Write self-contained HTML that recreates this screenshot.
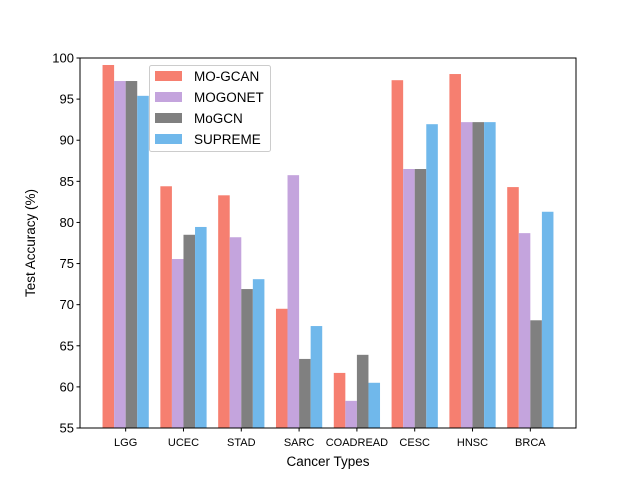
<!DOCTYPE html>
<html><head><meta charset="utf-8"><style>body{margin:0;background:#fff}svg{display:block;font-family:"Liberation Sans","DejaVu Sans",sans-serif}</style></head>
<body>
<svg id="chart" width="640" height="480" viewBox="0 0 640 480" xmlns="http://www.w3.org/2000/svg"></svg>
<script>
const categories = ["LGG","UCEC","STAD","SARC","COADREAD","CESC","HNSC","BRCA"];
const seriesNames = ["MO-GCAN","MOGONET","MoGCN","SUPREME"];
const moGcan = [99.15,84.4,83.3,69.5,61.7,97.3,98.05,84.3];
const mogonet = [97.2,75.55,78.2,85.75,58.3,86.5,92.2,78.7];
const mogcn = [97.2,78.5,71.9,63.4,63.9,86.5,92.2,68.1];
const supreme = [95.4,79.45,73.1,67.4,60.5,91.95,92.2,81.3];
const yTicks = [55,60,65,70,75,80,85,90,95,100];

const series=[moGcan,mogonet,mogcn,supreme];
const colors=["#f67f70","#c4a4dd","#808080","#70b8eb"];
const NS="http://www.w3.org/2000/svg";
const svg=document.getElementById('chart');
const L=80,R=576,T=58,B=428,ymin=55,ymax=100;
const xmin=-0.79,xmax=7.79;
const xs=v=>L+(v-xmin)/(xmax-xmin)*(R-L);
const ys=v=>B-(v-ymin)/(ymax-ymin)*(B-T);
function mk(tag,attrs,parent){const e=document.createElementNS(NS,tag);for(const k in attrs)e.setAttribute(k,attrs[k]);(parent||svg).appendChild(e);return e;}
const bw=0.2;
series.forEach((s,si)=>{s.forEach((v,ci)=>{
 const x0=xs(ci-0.4+si*bw),x1=xs(ci-0.4+(si+1)*bw);
 const r=mk('rect',{x:x0,y:ys(v),width:x1-x0,height:B-ys(v),fill:colors[si]});
 
 
});});
const frame=mk('rect',{x:L,y:T,width:R-L,height:B-T,fill:'none',stroke:'#000','stroke-width':1});


yTicks.forEach(t=>{
 const y=ys(t);
 mk('line',{x1:L-3.5,x2:L,y1:y,y2:y,stroke:'#000'});
 const tx=mk('text',{x:L-6,y:y+4.5,'text-anchor':'end','font-size':13});
 tx.textContent=t;
 
 
});
categories.forEach((c,i)=>{
 const x=xs(i);
 mk('line',{x1:x,x2:x,y1:B,y2:B+3.5,stroke:'#000'});
 const tx=mk('text',{x:x,y:B+18,'text-anchor':'middle','font-size':11});
 tx.textContent=c;
 
 
});
const xt=mk('text',{x:(L+R)/2,y:466,'text-anchor':'middle','font-size':13.5});
xt.textContent='Cancer Types';


const yt=mk('text',{x:35,y:(T+B)/2,'text-anchor':'middle','font-size':13.5,transform:'rotate(-90 35 '+((T+B)/2)+')'});
yt.textContent='Test Accuracy (%)';


const lg=mk('g',{});


mk('rect',{x:149.5,y:65.5,width:121,height:86,rx:2,fill:'#fff','fill-opacity':0.8,stroke:'#ccc'},lg);
seriesNames.forEach((n,i)=>{
 const y=76+i*21;
 mk('rect',{x:155,y:y-5,width:27,height:10,fill:colors[i]},lg);
 const tx=mk('text',{x:194,y:y+5,'font-size':13.5},lg);
 tx.textContent=n;
 
 
});
</script>
</body></html>
